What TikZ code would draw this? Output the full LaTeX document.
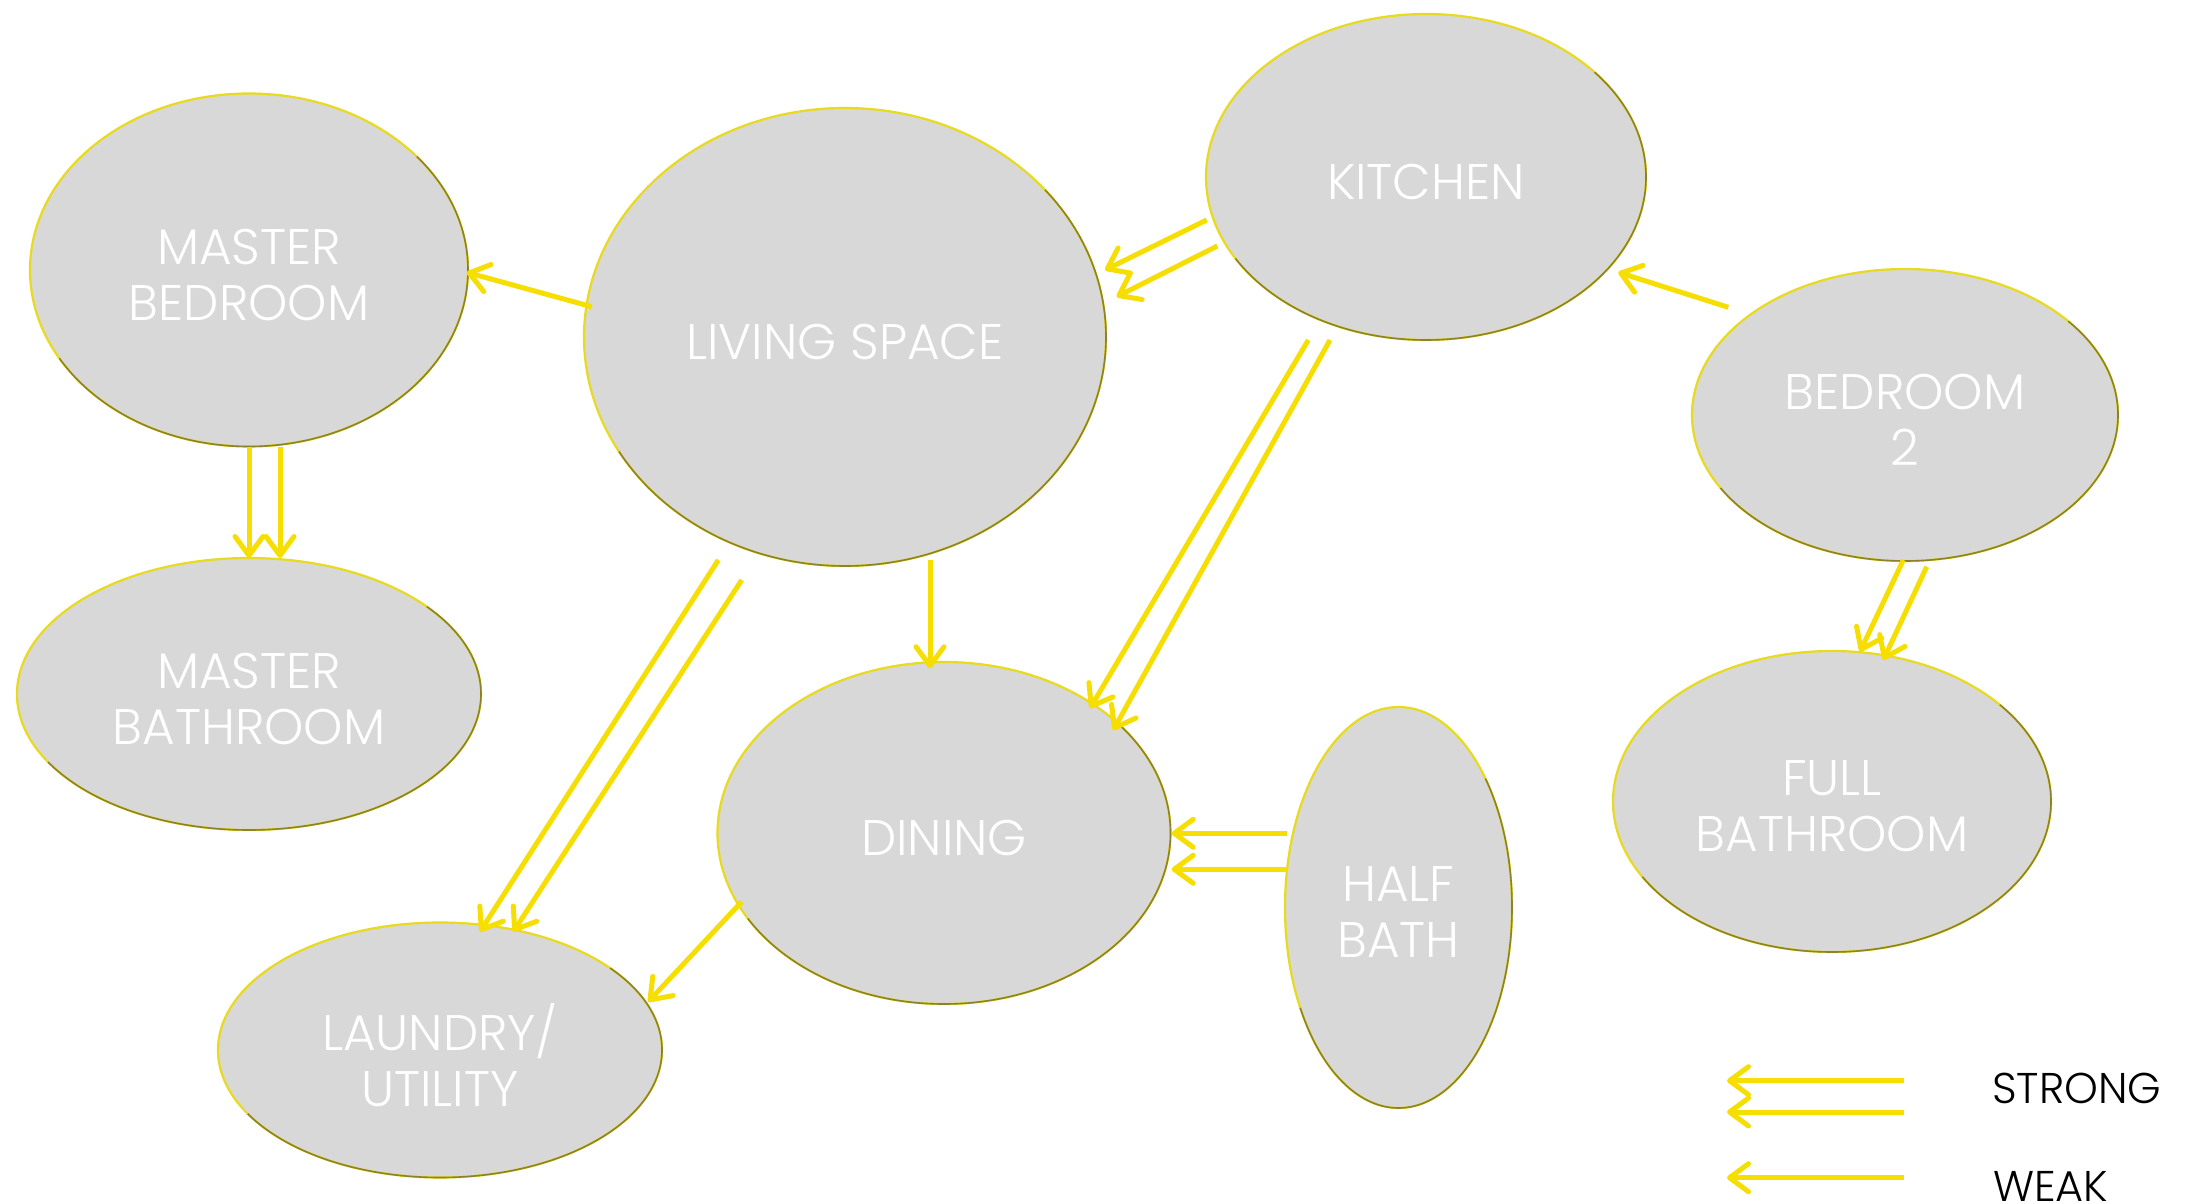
\documentclass[tikz,border=0pt]{standalone}
\usepackage{fontspec}
\setmainfont{Poppins}[UprightFont={* Light}]
\usetikzlibrary{arrows.meta,calc,shapes.geometric}
\definecolor{roomfill}{RGB}{216,216,216}
\definecolor{roomedge}{RGB}{232,218,30}
\definecolor{roomshade}{RGB}{140,130,40}
\definecolor{arrowyel}{RGB}{245,222,0}
\tikzset{
  room/.style={ellipse, fill=roomfill, draw=roomedge, line width=2.2pt, inner sep=0pt},
  roomtext/.style={text=white, align=center, inner sep=0pt, yshift=-5pt, font=\fontsize{50}{56}\selectfont},
  bevelline/.style={draw=roomshade, line width=1.6pt},
  link/.style={draw=arrowyel, line width=5pt,
    -{Straight Barb[length=19pt,width=28pt,line cap=round,line join=round]}},
  legendtext/.style={text=black, anchor=base west, inner sep=0pt, font=\fontsize{43}{48}\selectfont}
}
\newcommand{\bevelarc}[3]{\draw[bevelline] ($(#1.center)+({#2pt*cos(40)},{#3pt*sin(40)})$) arc[start angle=40, end angle=-150, x radius=#2pt, y radius=#3pt];}
\begin{document}
\begin{tikzpicture}[x=1pt,y=-1pt]
\useasboundingbox[fill=white] (0,0) rectangle (2186,1204);
% rooms
\node[room, minimum width=438pt, minimum height=353pt, label={[roomtext]center:{MASTER\\BEDROOM}}] (mbed) at (249,270) {};
\node[room, minimum width=522pt, minimum height=458pt, label={[roomtext]center:{LIVING SPACE}}] (living) at (845,337) {};
\node[room, minimum width=440pt, minimum height=326pt, label={[roomtext]center:{KITCHEN}}] (kitchen) at (1426,177) {};
\node[room, minimum width=426pt, minimum height=292pt, label={[roomtext]center:{BEDROOM\\2}}] (bed2) at (1905,415) {};
\node[room, minimum width=464pt, minimum height=272pt, label={[roomtext]center:{MASTER\\BATHROOM}}] (mbath) at (249,694) {};
\node[room, minimum width=453pt, minimum height=342pt, label={[roomtext]center:{DINING}}] (dining) at (944,833) {};
\node[room, minimum width=227pt, minimum height=401pt, label={[roomtext]center:{HALF\\BATH}}] (half) at (1398.5,907.5) {};
\node[room, minimum width=438pt, minimum height=301pt, label={[roomtext]center:{FULL\\BATHROOM}}] (full) at (1832,801.5) {};
\node[room, minimum width=444pt, minimum height=255pt, label={[roomtext]center:{LAUNDRY/\\UTILITY}}] (laundry) at (440,1050) {};
% bevel shading
\bevelarc{mbed}{219}{176.5}
\bevelarc{living}{261}{229}
\bevelarc{kitchen}{220}{163}
\bevelarc{bed2}{213}{146}
\bevelarc{mbath}{232}{136}
\bevelarc{dining}{226.5}{171}
\bevelarc{half}{113.5}{200.5}
\bevelarc{full}{219}{150.5}
\bevelarc{laundry}{222}{127.5}
% connectors
\draw[link] ($(living)+(-253.3,-30.3)$) -- ($(mbed)+(217.7,2.3)$);
\draw[link] ($(mbed)+(0,176.7)$) -- ($(mbath)+(0,-136)$);
\draw[link] ($(mbed)+(31,176.7)$) -- ($(mbath)+(31,-136)$);
\draw[link] ($(living)+(-126.7,223)$) -- ($(laundry)+(40,-118.3)$);
\draw[link] ($(living)+(-103.3,243)$) -- ($(laundry)+(73.3,-118.3)$);
\draw[link] ($(dining)+(-202.3,68.7)$) -- ($(laundry)+(208.3,-48.3)$);
\draw[link] ($(kitchen)+(-117.7,163)$) -- ($(dining)+(146,-124.7)$);
\draw[link] ($(kitchen)+(-96,163)$) -- ($(dining)+(169.3,-103)$);
\draw[link] ($(kitchen)+(-219.3,43)$) -- ($(living)+(260,-67)$);
\draw[link] ($(kitchen)+(-208.7,69)$) -- ($(living)+(271.7,-40.3)$);
\draw[link] ($(bed2)+(-176.7,-107.7)$) -- ($(kitchen)+(192.3,95.3)$);
\draw[link] ($(bed2)+(-1.7,145)$) -- ($(full)+(28,-149.8)$);
\draw[link] ($(bed2)+(21.7,151.7)$) -- ($(full)+(51.3,-141.5)$);
\draw[link] ($(half)+(-111.8,-74.2)$) -- ($(dining)+(227.7,0.3)$);
\draw[link] ($(half)+(-111.8,-38.2)$) -- ($(dining)+(227.7,36.3)$);
\draw[link] ($(living)+(85,223)$) -- ($(dining)+(-14,-164.7)$);
% legend
\coordinate (s1a) at (1904,1080.7); \coordinate (s1b) at (1727,1080.7);
\coordinate (s2a) at (1904,1112); \coordinate (s2b) at (1727,1112);
\coordinate (w1a) at (1904,1177.7); \coordinate (w1b) at (1727,1177.7);
\draw[link] (s1a) -- (s1b);
\draw[link] (s2a) -- (s2b);
\draw[link] (w1a) -- (w1b);
\node[legendtext] (strong) at (1992,1103) {STRONG};
\node[legendtext] (weak) at (1993,1201) {WEAK};
\end{tikzpicture}
\end{document}
